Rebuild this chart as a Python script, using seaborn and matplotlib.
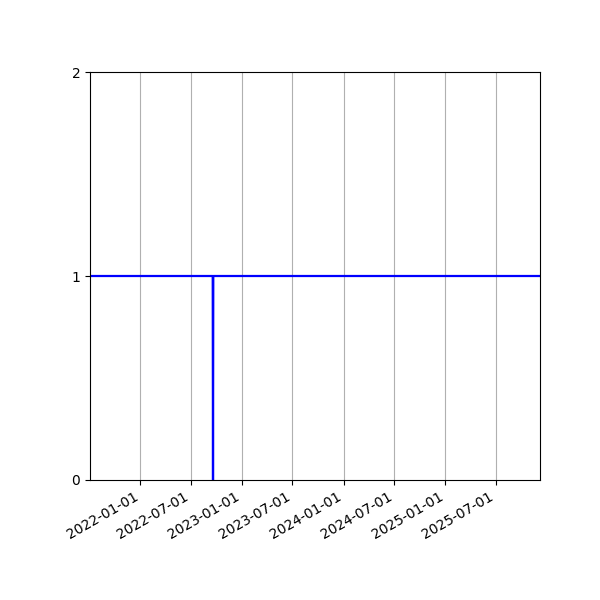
import matplotlib
matplotlib.use("Agg")
import matplotlib.pyplot as plt
import matplotlib.dates as mdates
import pandas as pd
import seaborn as sns

sns.set_style("ticks")
plt.rcParams["font.family"] = ["DejaVu Sans"]

dates = ["2021-07-04", "2022-09-18", "2022-09-19", "2022-09-20", "2025-12-07"]
values = [1, 1, 0, 1, 1]
y_ticks = [0, 1, 2]

df = pd.DataFrame({"date": pd.to_datetime(dates), "value": values})

fig, ax = plt.subplots(figsize=(6, 6), dpi=100)
sns.lineplot(data=df, x="date", y="value", color="blue", linewidth=1.6,
             estimator=None, ax=ax)

ax.set_xlim(df["date"].iloc[0], df["date"].iloc[-1])
ax.set_ylim(0, 2)
ax.set_yticks(y_ticks)
ax.xaxis.set_major_locator(mdates.MonthLocator(bymonth=[1, 7]))
ax.xaxis.set_major_formatter(mdates.DateFormatter("%Y-%m-%d"))
ax.grid(axis="x", color="#b0b0b0", linewidth=0.8)
ax.grid(axis="y", visible=False)
ax.set_xlabel("")
ax.set_ylabel("")
for s in ax.spines.values():
    s.set_visible(True)
    s.set_color("black")
    s.set_linewidth(0.8)
ax.tick_params(direction="out", length=3.5, width=0.8, colors="black", labelsize=10)

fig.autofmt_xdate()
fig.subplots_adjust(left=0.15, right=0.9, top=0.88, bottom=0.2)
fig.savefig("out.png", dpi=100)
